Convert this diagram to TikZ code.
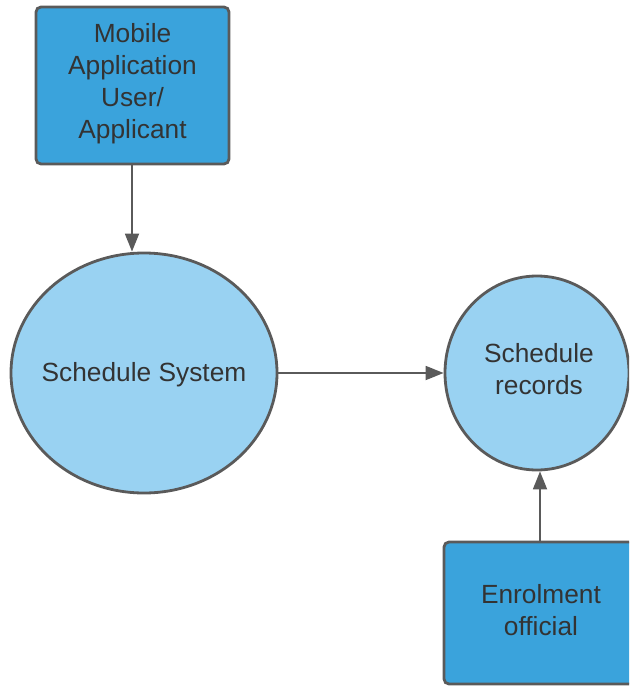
\documentclass[tikz,border=0pt]{standalone}
\usepackage{fontspec}
\setmainfont{Liberation Sans}
\usetikzlibrary{arrows.meta,shapes.geometric}
\definecolor{boxblue}{HTML}{3AA3DC}
\definecolor{circblue}{HTML}{99D2F2}
\definecolor{edge}{HTML}{5A5A5A}
\definecolor{txt}{HTML}{333333}
\tikzset{
  entity/.style={draw=edge, line width=2.8pt, fill=boxblue, rounded corners=5pt, inner sep=0pt},
  proc/.style={draw=edge, line width=2.8pt, fill=circblue, ellipse, inner sep=0pt},
  lbl/.style={text=txt, align=center, font=\fontsize{26.3}{32}\selectfont},
  flow/.style={draw=edge, line width=1.8pt, -{Triangle[length=18pt,width=14pt]}}
}
\begin{document}
\begin{tikzpicture}[x=1pt,y=-1pt]
\useasboundingbox (0,0) rectangle (629,687);
\clip (0,0) rectangle (629,687);
\node[entity, minimum width=193pt, minimum height=157pt] (user) at (132.5,85.5) {};
\node[lbl] at (132.5,84) {Mobile\\Application\\User/\\Applicant};
\node[proc, minimum width=266pt, minimum height=240pt] (sys) at (144,373) {};
\node[lbl] at (144,375) {Schedule System};
\node[proc, minimum width=184pt, minimum height=194pt] (rec) at (537,373) {};
\node[lbl] at (539,369) {Schedule\\records};
\node[entity, minimum width=194pt, minimum height=142pt] (off) at (541,613) {};
\node[lbl] at (541,610) {Enrolment\\official};
\draw[flow] (user.south -| 132,0) -- (sys.north -| 132,0);
\draw[flow] (sys.east) -- (rec.west);
\draw[flow] (off.north -| 540,0) -- (rec.south -| 540,0);
\end{tikzpicture}
\end{document}
